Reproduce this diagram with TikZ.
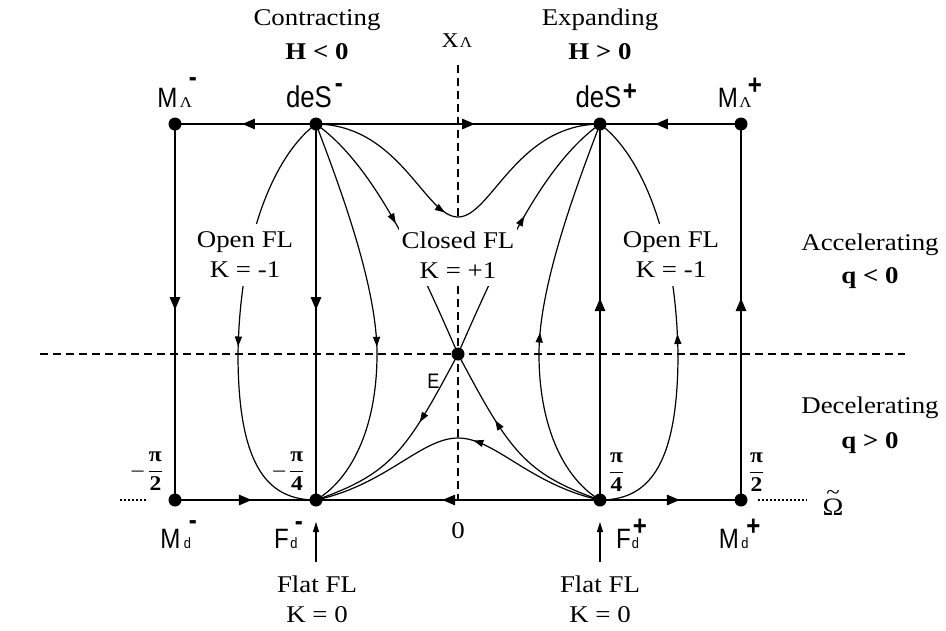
\documentclass[tikz,border=0pt]{standalone}
\usepackage{fontspec}
\setmainfont{Liberation Serif}[FakeStretch=1.12]
\newfontfamily\sfam{Liberation Sans}[FakeStretch=0.86]
\usetikzlibrary{arrows.meta,decorations.markings}
\newcommand\myfs[1]{\fontsize{#1}{#1}\selectfont}
\tikzset{
  bigtri/.tip={Triangle[length=13pt,width=10pt]},
  smalltri/.tip={Triangle[length=10pt,width=7pt]},
  bord/.style={line width=2.8pt},
  flow/.style={line width=1.2pt},
  dot/.style={circle,fill=black,inner sep=0pt,minimum size=13pt},
  marrow/.style={postaction={decorate,decoration={markings,mark=at position #1 with {\arrow{bigtri}}}}},
  sarrow/.style={postaction={decorate,decoration={markings,mark=at position #1 with {\arrow{smalltri}}}}},
  axisline/.style={line width=2.8pt,dash pattern=on 8pt off 5pt},
  dotline/.style={line width=2pt,dash pattern=on 2pt off 2pt},
  lbl/.style={font=\fontsize{24}{30}\selectfont,align=center,fill=white,inner xsep=3pt,inner ysep=8pt},
  st/.style={font=\myfs{24},inner sep=0pt,anchor=base},
  stb/.style={font=\myfs{24}\bfseries,inner sep=0pt,anchor=base},
  sl/.style={font=\sfam\myfs{28},inner sep=0pt,anchor=base},
  sub/.style={font=\sfam\myfs{15},inner sep=0pt,anchor=base},
  lsub/.style={font=\myfs{15},inner sep=0pt,anchor=base},
  sgn/.style={font=\sfam\bfseries\myfs{28},inner sep=0pt,anchor=base},
  fr/.style={font=\myfs{21}\bfseries,inner sep=0pt,anchor=base},
}
\begin{document}
\begin{tikzpicture}[x=1pt,y=-1pt]
\useasboundingbox (0,0) rectangle (946,630);

% fixed points
\node[dot] (MLm) at (175,124) {};
\node[dot] (dSm) at (316,124) {};
\node[dot] (dSp) at (600,124) {};
\node[dot] (MLp) at (741,124) {};
\node[dot] (Mdm) at (175,500) {};
\node[dot] (Fdm) at (316,500) {};
\node[dot] (Fdp) at (600,500) {};
\node[dot] (Mdp) at (741,500) {};
\node[dot] (E) at (458,354) {};

% helper coordinates
\coordinate (hl) at (40,354);
\coordinate (hr) at (905,354);
\coordinate (xtop) at (458,65);
\coordinate (wb) at (458,217);
\coordinate (xmid) at (458,286);
\coordinate (xbot) at (458,500);
\coordinate (ol) at (238,354);
\coordinate (or) at (678,354);
\coordinate (il) at (377,354);
\coordinate (ir) at (539,354);
\coordinate (hb) at (458,438);
\coordinate (dl1) at (120,500);
\coordinate (dl2) at (148,500);
\coordinate (dr1) at (758,500);
\coordinate (dr2) at (807,500);
\coordinate (fa1) at (316,562);
\coordinate (fa1t) at (316,522);
\coordinate (fa2) at (600,562);
\coordinate (fa2t) at (600,522);

% axes
\draw[axisline] (hl) -- (hr);
\draw[axisline] (xtop) -- (wb);
\draw[axisline] (xmid) -- (xbot);
\draw[dotline] (dl1) -- (dl2);
\draw[dotline] (dr1) -- (dr2);

% flow lines
\draw[flow,sarrow=0.97] (dSm.center) .. controls (278,152) and (240,230) .. (ol);
\draw[flow] (ol) .. controls (238,470) and (270,500) .. (Fdm.center);
\draw[flow,sarrow=0.08] (or) .. controls (676,230) and (638,152) .. (dSp.center);
\draw[flow] (Fdp.center) .. controls (646,500) and (678,470) .. (or);

\draw[flow,sarrow=0.97] (dSm.center) .. controls (345,200) and (377,290) .. (il);
\draw[flow] (il) .. controls (377,430) and (350,480) .. (Fdm.center);
\draw[flow,sarrow=0.09] (ir) .. controls (539,290) and (571,200) .. (dSp.center);
\draw[flow] (Fdp.center) .. controls (566,480) and (539,430) .. (ir);

\draw[flow,sarrow=0.47] (dSm.center) .. controls (373,165) and (414,253) .. (E.center);
\draw[flow,sarrow=0.56] (E.center) .. controls (502,253) and (543,165) .. (dSp.center);
\draw[flow,sarrow=0.37] (E.center) .. controls (406.5,451) and (391.5,473.7) .. (Fdm.center);
\draw[flow,sarrow=0.64] (Fdp.center) .. controls (524.5,473.7) and (509.5,451) .. (E.center);

\draw[flow,sarrow=0.92] (dSm.center) .. controls (400,125) and (425,217) .. (wb);
\draw[flow] (wb) .. controls (491,217) and (516,125) .. (dSp.center);
\draw[flow,sarrow=0.9] (Fdp.center) .. controls (530,485) and (495,438) .. (hb);
\draw[flow] (hb) .. controls (421,438) and (386,485) .. (Fdm.center);

% boundary edges
\draw[bord,marrow=0.525] (dSm.center) -- (MLm.center);
\draw[bord,marrow=0.56] (dSm.center) -- (dSp.center);
\draw[bord,marrow=0.61] (MLp.center) -- (dSp.center);
\draw[bord,marrow=0.495] (MLm.center) -- (Mdm.center);
\draw[bord,marrow=0.495] (dSm.center) -- (Fdm.center);
\draw[bord,marrow=0.537] (Fdp.center) -- (dSp.center);
\draw[bord,marrow=0.537] (Mdp.center) -- (MLp.center);
\draw[bord,marrow=0.546] (Mdm.center) -- (Fdm.center);
\draw[bord,marrow=0.556] (Fdp.center) -- (Fdm.center);
\draw[bord,marrow=0.567] (Fdp.center) -- (Mdp.center);

% flat FL arrows
\draw[flow,-{Triangle[length=10pt,width=6pt]}] (fa1) -- (fa1t);
\draw[flow,-{Triangle[length=10pt,width=6pt]}] (fa2) -- (fa2t);

% region labels
\node[lbl] (olab) at (245,255) {Open FL\\K = -1};
\node[lbl] (clab) at (458,255) {Closed FL\\K = +1};
\node[lbl] (orlab) at (671,255) {Open FL\\K = -1};

\node[st] (contr) at (317,25) {Contracting};
\node[stb] (hneg) at (317,59) {H < 0};
\node[st] (expd) at (600,25) {Expanding};
\node[stb] (hpos) at (600,59) {H > 0};
\node[st] (accl) at (870,250) {Accelerating};
\node[stb] (qneg) at (870,283) {q < 0};
\node[st] (decl) at (870,413) {Decelerating};
\node[stb] (qpos) at (870,448) {q > 0};
\node[st] (fl1) at (317,592) {Flat FL};
\node[st] (k01) at (317,622) {K = 0};
\node[st] (fl2) at (600,592) {Flat FL};
\node[st] (k02) at (600,622) {K = 0};
\node[st] (zero) at (458,538) {0};

% X_Lambda
\node[st,font=\myfs{21}] (tX) at (450,47) {X};
\node[lsub] (sX) at (466,47) {Λ};

% Omega tilde
\node[st,font=\myfs{25}] (om) at (833,515) {Ω};
\node[st,font=\myfs{22}] (omt) at (833,499) {\textasciitilde};

% fractions
\node[fr] (fr1) at (147.5,476) {{\mdseries –}\kern4pt$\displaystyle\frac{\hbox{π}}{\hbox{2}}$};
\node[fr] (fr2) at (289,476) {{\mdseries –}\kern4pt$\displaystyle\frac{\hbox{π}}{\hbox{4}}$};
\node[fr] (fr3) at (616.5,477) {$\displaystyle\frac{\hbox{π}}{\hbox{4}}$};
\node[fr] (fr4) at (756.5,477) {$\displaystyle\frac{\hbox{π}}{\hbox{2}}$};

% point names
\node[sl] (tMLm) at (167.5,107) {M};
\node[lsub] (sMLm) at (186,107) {Λ};
\node[sgn] (pMLm) at (193,86) {-};
\node[sl,font=\sfam\myfs{30}] (tdSm) at (309,107) {deS};
\node[sgn] (pdSm) at (339,92.6) {-};
\node[sl,font=\sfam\myfs{30}] (tdSp) at (598.5,107) {deS};
\node[sgn] (pdSp) at (630,100) {+};
\node[sl] (tMLp) at (728,107) {M};
\node[lsub] (sMLp) at (745.5,107) {Λ};
\node[sgn] (pMLp) at (755,94.5) {+};
\node[sl] (tMdm) at (170.5,548) {M};
\node[sub] (sMdm) at (187.5,548) {d};
\node[sgn] (pMdm) at (193,529) {-};
\node[sl] (tFdm) at (281.5,548) {F};
\node[sub] (sFdm) at (294,548) {d};
\node[sgn] (pFdm) at (299,530) {-};
\node[sl] (tFdp) at (623.5,548) {F};
\node[sub] (sFdp) at (635.5,548) {d};
\node[sgn] (pFdp) at (640,535.5) {+};
\node[sl] (tMdp) at (729,548) {M};
\node[sub] (sMdp) at (745,548) {d};
\node[sgn] (pMdp) at (753.5,535.5) {+};
\node[sl,font=\sfam\myfs{21}] (tE) at (433.5,388) {E};
\end{tikzpicture}
\end{document}
